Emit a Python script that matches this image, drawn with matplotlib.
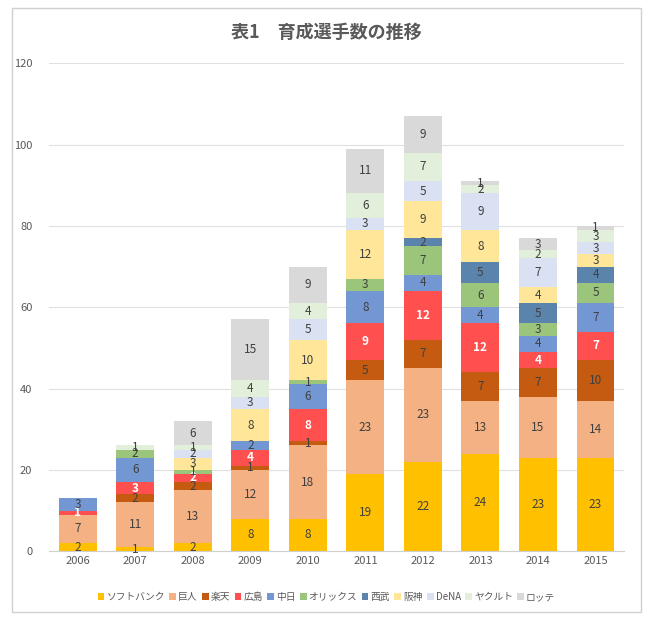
import matplotlib
matplotlib.use("Agg")
import matplotlib.pyplot as plt
from matplotlib.patches import Rectangle
import numpy as np

plt.rcParams["font.family"] = ["Noto Sans CJK JP", "DejaVu Sans"]

years = ["2006", "2007", "2008", "2009", "2010", "2011", "2012", "2013", "2014", "2015"]
teams = ["ソフトバンク", "巨人", "楽天", "広島", "中日", "オリックス", "西武", "阪神", "DeNA", "ヤクルト", "ロッテ"]

softbank = [2, 1, 2, 8, 8, 19, 22, 24, 23, 23]
giants = [7, 11, 13, 12, 18, 23, 23, 13, 15, 14]
rakuten = [0, 2, 2, 1, 1, 5, 7, 7, 7, 10]
hiroshima = [1, 3, 2, 4, 8, 9, 12, 12, 4, 7]
chunichi = [3, 6, 0, 2, 6, 8, 4, 4, 4, 7]
orix = [0, 2, 1, 0, 1, 3, 7, 6, 3, 5]
seibu = [0, 0, 0, 0, 0, 0, 2, 5, 5, 4]
hanshin = [0, 0, 3, 8, 10, 12, 9, 8, 4, 3]
dena = [0, 0, 2, 3, 5, 3, 5, 9, 7, 3]
yakult = [0, 1, 1, 4, 4, 6, 7, 2, 2, 3]
lotte = [0, 0, 6, 15, 9, 11, 9, 1, 3, 1]

series = [softbank, giants, rakuten, hiroshima, chunichi, orix, seibu, hanshin, dena, yakult, lotte]
colors = ["#FFC000", "#F4B183", "#C55A11", "#FF4F4F", "#7397D3", "#9BC57B",
          "#5B84AC", "#FFE699", "#D9E1F2", "#E2EFDA", "#D9D9D9"]

fig = plt.figure(figsize=(6.53, 6.2), dpi=100)
ax = fig.add_axes([0.075, 0.111, 0.881, 0.787])

fig.patches.append(Rectangle((0.018, 0.013), 0.963, 0.974, transform=fig.transFigure,
                             fill=False, edgecolor="#D0D0D0", linewidth=1))

x = np.arange(len(years))
bottom = np.zeros(len(years))
for name, vals, color in zip(teams, series, colors):
    vals = np.array(vals)
    ax.bar(x, vals, 0.66, bottom=bottom, color=color, label=name, zorder=2)
    for i, v in enumerate(vals):
        if v == 0:
            continue
        if name == "広島":
            ax.text(x[i], bottom[i] + v / 2, str(v), ha="center", va="center",
                    fontsize=8.5, color="white", fontweight="bold", zorder=3)
        else:
            ax.text(x[i], bottom[i] + v / 2, str(v), ha="center", va="center",
                    fontsize=8.5, color="#404040", zorder=3)
    bottom += vals

ax.set_ylim(0, 120)
ax.set_yticks(range(0, 121, 20))
ax.set_xlim(-0.5, len(years) - 0.5)
ax.set_xticks(x)
ax.set_xticklabels(years)
ax.tick_params(axis="both", length=0, labelsize=8, colors="#595959")
ax.tick_params(axis="y", pad=12)
ax.grid(axis="y", color="#E0E0E0", linewidth=0.8, zorder=0)
for side in ["top", "right", "left"]:
    ax.spines[side].set_visible(False)
ax.spines["bottom"].set_color("#D0D0D0")

fig.text(0.5, 0.948, "表1　育成選手数の推移", ha="center", va="center",
         fontsize=13, fontweight="bold", color="#595959")

fig.legend(loc="center", bbox_to_anchor=(0.5, 0.037), ncol=11, frameon=False,
           fontsize=7, handlelength=0.7, handleheight=0.7, handletextpad=0.2,
           columnspacing=0.45, labelcolor="#595959")

fig.savefig("out.png", dpi=100)
